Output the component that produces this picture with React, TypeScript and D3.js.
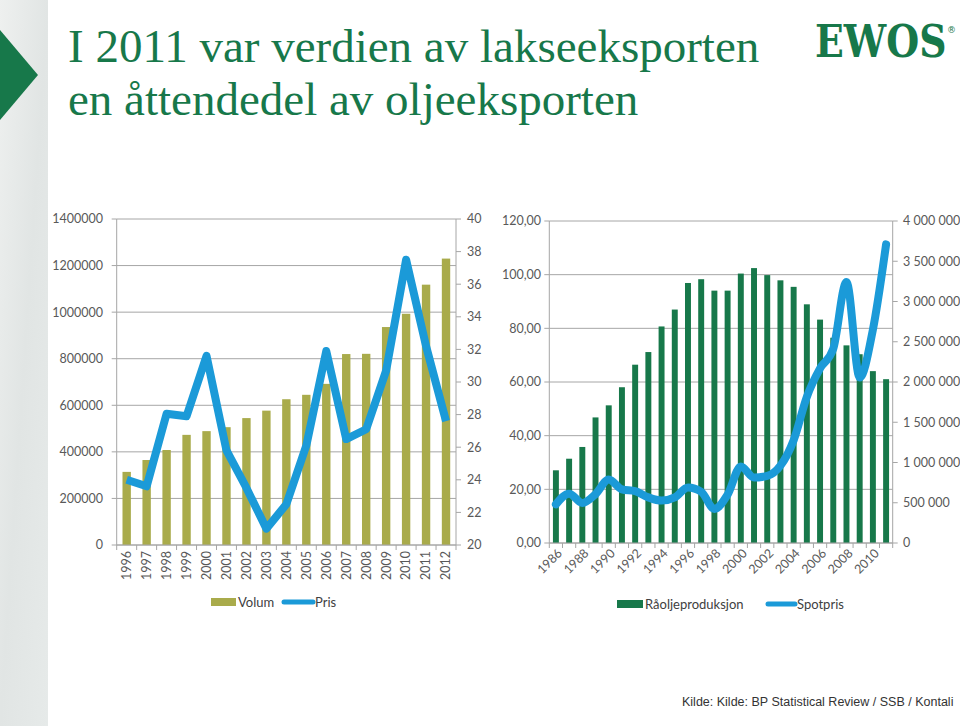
import React from 'react';
import * as d3 from 'd3';

// ---------- Data ----------
const salmonYears = ['1996','1997','1998','1999','2000','2001','2002','2003','2004','2005','2006','2007','2008','2009','2010','2011','2012'];
const volum = [314000, 365000, 408000, 473000, 489000, 506000, 545000, 577000, 626000, 645000, 692000, 820000, 821000, 936000, 993000, 1118000, 1230000];
const pris = [24.0, 23.6, 28.05, 27.9, 31.6, 25.8, 23.5, 21.0, 22.5, 26.1, 31.9, 26.5, 27.1, 30.7, 37.5, 32.2, 27.6];
const volumTicks = [0, 200000, 400000, 600000, 800000, 1000000, 1200000, 1400000];
const prisTicks = [20, 22, 24, 26, 28, 30, 32, 34, 36, 38, 40];

const oilYears = ['1986','1987','1988','1989','1990','1991','1992','1993','1994','1995','1996','1997','1998','1999','2000','2001','2002','2003','2004','2005','2006','2007','2008','2009','2010','2011'];
const produksjon = [903000, 1047000, 1193000, 1560000, 1710000, 1935000, 2215000, 2372000, 2690000, 2900000, 3230000, 3277000, 3135000, 3135000, 3347000, 3415000, 3328000, 3263000, 3182000, 2965000, 2775000, 2550000, 2455000, 2345000, 2135000, 2035000];
const spotpris = [14.4, 18.4, 14.9, 18.2, 23.7, 20.0, 19.3, 17.0, 15.8, 17.0, 20.7, 19.1, 12.7, 18.0, 28.5, 24.4, 25.0, 28.8, 38.3, 54.5, 65.1, 72.4, 97.3, 61.7, 79.5, 111.3];
const spotTicks = [0, 20, 40, 60, 80, 100, 120];
const prodTicks = [0, 500000, 1000000, 1500000, 2000000, 2500000, 3000000, 3500000, 4000000];

const GREEN = '#17784a';
const OLIVE = '#a9ab4b';
const BLUE = '#1b9ad8';
const AXIS = '#a6a6a6';
const TXT = '#595959';
const FONT = 'Lato, "Open Sans", sans-serif';

const fmtSpace = (v: number) => d3.format(',')(v).replace(/,/g, ' ');
const fmtComma = (v: number) => d3.format('.2f')(v).replace('.', ',');

function LeftChart() {
  const x0 = 116.7, x1 = 456, yTop = 219, yBot = 545;
  const x = d3.scaleBand<string>().domain(salmonYears).range([x0, x1]).paddingInner(0.58).paddingOuter(0.29);
  const y = d3.scaleLinear().domain([0, 1400000]).range([yBot, yTop]);
  const yR = d3.scaleLinear().domain([20, 40]).range([yBot, yTop]);
  const step = x.step();
  const line = d3.line<number>().x((_, i) => (x(salmonYears[i]) as number) + x.bandwidth() / 2).y(d => yR(d));
  const boundaries = d3.range(salmonYears.length + 1).map(i => x0 + i * step);
  return (
    <g>
      {volumTicks.map(t => (
        <g key={'g' + t}>
          <line x1={x0} x2={x1} y1={y(t)} y2={y(t)} stroke={AXIS} strokeWidth={1} />
          <line x1={x0 - 5} x2={x0} y1={y(t)} y2={y(t)} stroke={AXIS} />
          <text x={103} y={y(t)} dy="0.35em" textAnchor="end" fontSize={12.5} fill={TXT} fontFamily={FONT}>{t}</text>
        </g>
      ))}
      {prisTicks.map(t => (
        <g key={'r' + t}>
          <line x1={x1} x2={x1 + 5} y1={yR(t)} y2={yR(t)} stroke={AXIS} />
          <text x={467} y={yR(t)} dy="0.35em" textAnchor="start" fontSize={12.5} fill={TXT} fontFamily={FONT}>{t}</text>
        </g>
      ))}
      <line x1={x0} x2={x0} y1={yTop} y2={yBot} stroke={AXIS} />
      <line x1={x1} x2={x1} y1={yTop} y2={yBot} stroke={AXIS} />
      {salmonYears.map((yr, i) => (
        <rect key={yr} x={x(yr)} y={y(volum[i])} width={x.bandwidth()} height={yBot - y(volum[i])} fill={OLIVE} />
      ))}
      <line x1={x0} x2={x1} y1={yBot} y2={yBot} stroke={AXIS} />
      {boundaries.map((b, i) => (
        <line key={'b' + i} x1={b} x2={b} y1={yBot} y2={yBot + 5} stroke={AXIS} />
      ))}
      <path d={line(pris) as string} fill="none" stroke={BLUE} strokeWidth={8} strokeLinejoin="round" strokeLinecap="butt" />
      {salmonYears.map(yr => (
        <text key={'l' + yr} transform={`translate(${(x(yr) as number) + x.bandwidth() / 2},${yBot + 6}) rotate(-90)`} dy="0.35em" textAnchor="end" fontSize={12.5} fill={TXT} fontFamily={FONT}>{yr}</text>
      ))}
      {/* legend */}
      <rect x={211} y={598} width={25} height={8} fill={OLIVE} />
      <text x={238} y={602} dy="0.35em" fontSize={13} fill="#404040" fontFamily={FONT}>Volum</text>
      <line x1={284} x2={313} y1={602} y2={602} stroke={BLUE} strokeWidth={5} strokeLinecap="round" />
      <text x={315} y={602} dy="0.35em" fontSize={13} fill="#404040" fontFamily={FONT}>Pris</text>
    </g>
  );
}

function RightChart() {
  const x0 = 549.3, x1 = 892.7, yTop = 221, yBot = 543;
  const x = d3.scaleBand<string>().domain(oilYears).range([x0, x1]).paddingInner(0.55).paddingOuter(0.275);
  const yL = d3.scaleLinear().domain([0, 120]).range([yBot, yTop]);
  const yR = d3.scaleLinear().domain([0, 4000000]).range([yBot, yTop]);
  const step = x.step();
  const line = d3.line<number>().x((_, i) => (x(oilYears[i]) as number) + x.bandwidth() / 2).y(d => yL(d)).curve(d3.curveMonotoneX);
  const boundaries = d3.range(oilYears.length + 1).map(i => x0 + i * step);
  return (
    <g>
      {spotTicks.map(t => (
        <g key={'s' + t}>
          <line x1={x0} x2={x1} y1={yL(t)} y2={yL(t)} stroke={AXIS} />
          <line x1={x0 - 5} x2={x0} y1={yL(t)} y2={yL(t)} stroke={AXIS} />
          <text x={541} y={yL(t)} dy="0.35em" textAnchor="end" fontSize={12.5} fill={TXT} fontFamily={FONT}>{fmtComma(t)}</text>
        </g>
      ))}
      {prodTicks.map(t => (
        <g key={'p' + t}>
          <line x1={x1} x2={x1 + 5} y1={yR(t)} y2={yR(t)} stroke={AXIS} />
          <text x={903} y={yR(t)} dy="0.35em" textAnchor="start" fontSize={12.5} fill={TXT} fontFamily={FONT}>{fmtSpace(t)}</text>
        </g>
      ))}
      <line x1={x0} x2={x0} y1={yTop} y2={yBot} stroke={AXIS} />
      <line x1={x1} x2={x1} y1={yTop} y2={yBot} stroke={AXIS} />
      {oilYears.map((yr, i) => (
        <rect key={yr} x={x(yr)} y={yR(produksjon[i])} width={x.bandwidth()} height={yBot - yR(produksjon[i])} fill={GREEN} />
      ))}
      <line x1={x0} x2={x1} y1={yBot} y2={yBot} stroke={AXIS} />
      {boundaries.map((b, i) => (
        <line key={'b' + i} x1={b} x2={b} y1={yBot} y2={yBot + 5} stroke={AXIS} />
      ))}
      <path d={line(spotpris) as string} fill="none" stroke={BLUE} strokeWidth={8} strokeLinejoin="round" strokeLinecap="round" />
      {oilYears.filter((_, i) => i % 2 === 0).map(yr => (
        <text key={'l' + yr} transform={`translate(${(x(yr) as number) + x.bandwidth() / 2 + 4},${yBot + 8}) rotate(-45)`} dy="0.35em" textAnchor="end" fontSize={12.5} fill={TXT} fontFamily={FONT}>{yr}</text>
      ))}
      {/* legend */}
      <rect x={617} y={600} width={26} height={8} fill={GREEN} />
      <text x={645} y={604} dy="0.35em" fontSize={13} fill="#404040" fontFamily={FONT}>Råoljeproduksjon</text>
      <line x1={768} x2={795} y1={604} y2={604} stroke={BLUE} strokeWidth={5} strokeLinecap="round" />
      <text x={797} y={604} dy="0.35em" fontSize={13} fill="#404040" fontFamily={FONT}>Spotpris</text>
    </g>
  );
}

export default function App() {
  return (
    <div style={{ position: 'absolute', left: 0, top: 0, width: 960, height: 726 }}>
      <svg width={960} height={726} viewBox="0 0 960 726" style={{ display: 'block' }}>
        <defs>
          <linearGradient id="strip" x1="0" y1="0" x2="1" y2="1">
            <stop offset="0" stopColor="#eef0ef" />
            <stop offset="0.5" stopColor="#e1e5e4" />
            <stop offset="1" stopColor="#e6eae9" />
          </linearGradient>
        </defs>
        <rect x={0} y={0} width={960} height={726} fill="#ffffff" />
        <rect x={0} y={0} width={48} height={726} fill="url(#strip)" />
        <polygon points="0,30 38,75 0,120" fill={GREEN} />
        <text x={68} y={62} fontFamily='"Liberation Serif", serif' fontSize={47} fill={GREEN}>I 2011 var verdien av lakseeksporten</text>
        <text x={68} y={115} fontFamily='"Liberation Serif", serif' fontSize={47} fill={GREEN}>en åttendedel av oljeeksporten</text>
        <text transform="translate(815,57) scale(1.05,1.22)" x={0} y={0} fontFamily='"DejaVu Serif", serif' fontWeight={900} fontSize={36} fill={GREEN}>EWOS</text>
        <text x={947} y={33} fontFamily='"DejaVu Sans", sans-serif' fontSize={9} fill={GREEN}>®</text>
        <LeftChart />
        <RightChart />
        <text x={682} y={702} dy="0.35em" fontFamily='"Liberation Sans", Arial, sans-serif' fontSize={12.5} fill="#333333">Kilde: Kilde: BP Statistical Review / SSB / Kontali</text>
      </svg>
    </div>
  );
}
